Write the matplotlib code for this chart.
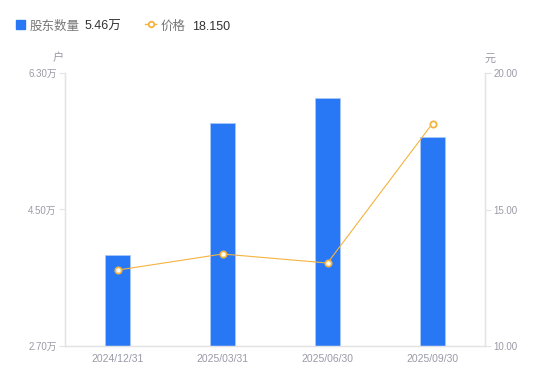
import matplotlib.pyplot as plt
from matplotlib.lines import Line2D

plt.rcParams['font.family'] = ['Liberation Sans', 'Noto Sans CJK SC', 'DejaVu Sans']

dates = ['2024/12/31', '2025/03/31', '2025/06/30', '2025/09/30']
holders = [3.90, 5.64, 5.97, 5.46]   # 万户
price = [12.78, 13.37, 13.04, 18.15]
left_ticks = [2.70, 4.50, 6.30]
right_ticks = [10.00, 15.00, 20.00]

bar_color = '#2878F5'
line_color = '#F5B340'
grey = '#9a9aa8'
axis_color = '#e3e3e6'

fig = plt.figure(figsize=(5.5, 3.81), dpi=100)
ax = fig.add_axes([65 / 550, 1 - 346 / 381, 420 / 550, 273 / 381])
x = range(len(dates))
ax.bar(x, holders, width=0.24, color=bar_color, edgecolor='#a9c8f8', linewidth=0.6, zorder=2)
ax.set_xlim(-0.5, 3.5)
ax.set_ylim(left_ticks[0], left_ticks[-1])
ax.set_yticks(left_ticks)
ax.set_yticklabels([f'{v:.2f}万' for v in left_ticks])
ax.set_xticks(list(x))
ax.set_xticklabels(dates)
ax.tick_params(axis='x', length=0, pad=6, labelsize=7.5, labelcolor=grey)
ax.tick_params(axis='y', length=4, width=0.8, color=axis_color, pad=2, labelsize=7, labelcolor=grey)

ax2 = ax.twinx()
ax2.plot(x, price, color=line_color, linewidth=0.8, marker='o', markersize=4.5,
         markerfacecolor='white', markeredgecolor=line_color, markeredgewidth=1.3, zorder=3)
ax2.set_ylim(right_ticks[0], right_ticks[-1])
ax2.set_yticks(right_ticks)
ax2.set_yticklabels([f'{v:.2f}' for v in right_ticks])
ax2.tick_params(axis='y', length=4, width=0.8, color=axis_color, pad=2, labelsize=7, labelcolor=grey)

for a in (ax, ax2):
    a.spines['top'].set_visible(False)
    for s in ('left', 'right', 'bottom'):
        a.spines[s].set_color(axis_color)
        a.spines[s].set_linewidth(0.9)

ax.text(-0.017, 1.035, '户', transform=ax.transAxes, ha='center', va='bottom', fontsize=8, color=grey)
ax2.text(1.012, 1.035, '元', transform=ax2.transAxes, ha='center', va='bottom', fontsize=8, color=grey)

# legend header
ty = 1 - 26.5 / 381
fig.patches.append(plt.Rectangle((16 / 550, 1 - 29 / 381), 9 / 550, 9 / 381, color=bar_color,
                                 transform=fig.transFigure, figure=fig))
fig.text(30 / 550, ty, '股东数量', fontsize=9, color='#777777', va='center')
fig.text(85 / 550, ty, f'{holders[-1]:.2f}万', fontsize=9, color='#333333', va='center')
fig.lines.append(Line2D([145 / 550, 156 / 550], [1 - 24 / 381, 1 - 24 / 381], color=line_color,
                        linewidth=1, transform=fig.transFigure))
fig.lines.append(Line2D([150.5 / 550], [1 - 24 / 381], color=line_color, marker='o', markersize=4,
                        markerfacecolor='white', markeredgewidth=1.3, transform=fig.transFigure))
fig.text(161 / 550, ty, '价格', fontsize=9, color='#777777', va='center')
fig.text(192 / 550, ty, f'{price[-1]:.3f}', fontsize=9, color='#333333', va='center')

fig.savefig('out.png', dpi=100)
